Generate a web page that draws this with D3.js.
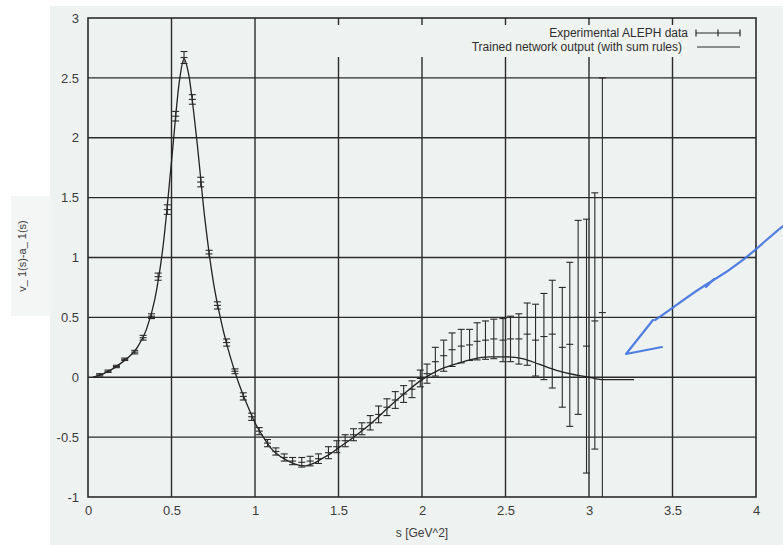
<!DOCTYPE html>
<html>
<head>
<meta charset="utf-8">
<script src="https://cdn.jsdelivr.net/npm/d3@7/dist/d3.min.js"></script>
<style>
  html, body { margin: 0; padding: 0; background: #ffffff; }
  svg { display: block; }
  text { font-family: "Liberation Sans", Arial, sans-serif; }
</style>
</head>
<body>
<svg id="chart" width="783" height="545"></svg>
<script>
// ALEPH V-A spectral function: measured points with errors
const dataS = [0.07, 0.12, 0.17, 0.22, 0.28, 0.33, 0.38, 0.42, 0.475, 0.525, 0.575, 0.625, 0.675, 0.725, 0.775,
  0.83, 0.88, 0.93, 0.98, 1.025, 1.075, 1.125, 1.175, 1.225, 1.28, 1.33, 1.38, 1.44, 1.49, 1.54, 1.59, 1.64,
  1.69, 1.74, 1.79, 1.84, 1.89, 1.94, 1.99, 2.03, 2.08, 2.13, 2.18, 2.235, 2.285, 2.33, 2.38, 2.43, 2.485,
  2.53, 2.58, 2.63, 2.68, 2.73, 2.78, 2.84, 2.885, 2.935, 2.985, 3.035, 3.08];
const dataV = [0.02, 0.05, 0.09, 0.15, 0.21, 0.33, 0.51, 0.84, 1.40, 2.18, 2.67, 2.32, 1.63, 1.03, 0.60,
  0.29, 0.05, -0.16, -0.33, -0.45, -0.55, -0.62, -0.67, -0.70, -0.71, -0.70, -0.68, -0.63, -0.58, -0.53, -0.48, -0.43,
  -0.38, -0.31, -0.25, -0.19, -0.14, -0.10, -0.01, 0.03, 0.13, 0.18, 0.23, 0.26, 0.27, 0.30, 0.31, 0.32, 0.31,
  0.32, 0.32, 0.36, 0.31, 0.34, 0.36, 0.25, 0.275, 0.50, 0.26, 0.47, 0.54];
const dataErr = [0.01, 0.01, 0.01, 0.01, 0.015, 0.02, 0.02, 0.03, 0.04, 0.04, 0.05, 0.04, 0.04, 0.03, 0.03,
  0.03, 0.02, 0.03, 0.03, 0.03, 0.03, 0.03, 0.03, 0.03, 0.04, 0.04, 0.04, 0.05, 0.05, 0.05, 0.05, 0.05,
  0.06, 0.07, 0.07, 0.07, 0.07, 0.07, 0.07, 0.08, 0.12, 0.13, 0.14, 0.14, 0.13, 0.155, 0.16, 0.165, 0.18,
  0.19, 0.21, 0.26, 0.30, 0.36, 0.45, 0.50, 0.685, 0.81, 1.06, 1.07, 1.96];

// Trained network output (with sum rules)
const netS = [0.03, 0.1, 0.2, 0.3, 0.35, 0.4, 0.45, 0.5, 0.55, 0.575, 0.6, 0.65, 0.7, 0.75, 0.8, 0.85, 0.9,
  0.95, 1.0, 1.05, 1.1, 1.15, 1.2, 1.25, 1.3, 1.35, 1.4, 1.45, 1.5, 1.6, 1.7, 1.8, 1.9, 2.0, 2.1, 2.2, 2.3,
  2.4, 2.5, 2.6, 2.7, 2.8, 2.9, 3.0, 3.05, 3.1, 3.27];
const netV = [0.0, 0.035, 0.12, 0.26, 0.40, 0.65, 1.10, 1.80, 2.50, 2.66, 2.55, 2.00, 1.32, 0.80, 0.45, 0.18, -0.04,
  -0.22, -0.38, -0.50, -0.60, -0.66, -0.70, -0.73, -0.74, -0.72, -0.68, -0.64, -0.59, -0.49, -0.38, -0.25, -0.13, -0.02, 0.06, 0.11, 0.15,
  0.17, 0.17, 0.155, 0.11, 0.06, 0.025, 0.0, -0.015, -0.02, -0.02];

const xTicks = [0, 0.5, 1, 1.5, 2, 2.5, 3, 3.5, 4];
const yTicks = [-1, -0.5, 0, 0.5, 1, 1.5, 2, 2.5, 3];
const legendLabels = ["Experimental ALEPH data", "Trained network output (with sum rules)"];
const xTitle = "s [GeV^2]";
const yTitle = "v_ 1(s)-a_ 1(s)";

const plotL = 88, plotR = 756, plotT = 18, plotB = 497;
const ink = "#2b2b2b";

const svg = d3.select("#chart");
const x = d3.scaleLinear().domain([0, 4]).range([plotL, plotR]);
const y = d3.scaleLinear().domain([-1, 3]).range([plotB, plotT]);

// paper tone
svg.append("rect").attr("x", 0).attr("y", 0).attr("width", 783).attr("height", 545).attr("fill", "#ffffff");
svg.append("rect").attr("x", 50).attr("y", 6).attr("width", 733).attr("height", 539).attr("fill", "#eef2f0");
svg.append("rect").attr("x", 11).attr("y", 196).attr("width", 40).attr("height", 120).attr("fill", "#f3f6f4");

// grid
const grid = svg.append("g").attr("stroke", ink).attr("stroke-width", 1.4);
grid.selectAll("line.h").data(yTicks.slice(1, -1)).join("line")
  .attr("x1", plotL).attr("x2", plotR).attr("y1", d => y(d)).attr("y2", d => y(d));
grid.selectAll("line.v").data(xTicks.slice(1, -1)).join("line")
  .attr("y1", plotT).attr("y2", plotB).attr("x1", d => x(d)).attr("x2", d => x(d));

// legend area cleared of grid, short ticks kept on the top edge
const legY1 = 57;
svg.append("rect").attr("x", x(1.45)).attr("y", plotT + 1).attr("width", plotR - x(1.45) - 1)
  .attr("height", legY1 - plotT - 1).attr("fill", "#eef2f0");
svg.append("g").attr("stroke", ink).attr("stroke-width", 1.4)
  .selectAll("line").data(xTicks.filter(d => d > 1.45 && d < 4)).join("line")
  .attr("x1", d => x(d)).attr("x2", d => x(d)).attr("y1", plotT).attr("y2", plotT + 7);

// frame
svg.append("rect").attr("x", plotL).attr("y", plotT).attr("width", plotR - plotL).attr("height", plotB - plotT)
  .attr("fill", "none").attr("stroke", ink).attr("stroke-width", 1.6);

// tick labels via d3 axes
const xAxis = svg.append("g").attr("transform", `translate(0,${plotB + 9})`)
  .call(d3.axisBottom(x).tickValues(xTicks).tickSize(0).tickPadding(0).tickFormat(d => String(d)));
const yAxis = svg.append("g").attr("transform", `translate(${plotL - 9},0)`)
  .call(d3.axisLeft(y).tickValues(yTicks).tickSize(0).tickPadding(0).tickFormat(d => String(d)));
[xAxis, yAxis].forEach(a => {
  a.select(".domain").remove();
  a.selectAll("text").attr("font-size", 13).attr("fill", "#3c3c3c")
    .attr("font-family", "'Liberation Sans', Arial, sans-serif");
});
xAxis.selectAll("text").attr("dy", "0.71em");

svg.append("text").attr("x", (plotL + plotR) / 2).attr("y", 537).attr("text-anchor", "middle")
  .attr("font-size", 12).attr("fill", "#3c3c3c").text(xTitle);
svg.append("text").attr("transform", "translate(26,256) rotate(-90)").attr("text-anchor", "middle")
  .attr("font-size", 11).attr("fill", "#3c3c3c").text(yTitle);

// plotting area clip
svg.append("clipPath").attr("id", "plotClip").append("rect")
  .attr("x", plotL).attr("y", plotT).attr("width", plotR - plotL).attr("height", plotB - plotT);
const plot = svg.append("g").attr("clip-path", "url(#plotClip)");

// network curve
const points = dataS.map((s, i) => ({ s, v: dataV[i], e: dataErr[i] }));
const net = netS.map((s, i) => ({ s, v: netV[i] }));
plot.append("path").datum(net)
  .attr("fill", "none").attr("stroke", "#222").attr("stroke-width", 1.3)
  .attr("d", d3.line().x(d => x(d.s)).y(d => y(d.v)).curve(d3.curveMonotoneX));

// error bars
const hw = 3.5;
const eb = plot.append("g").attr("stroke", "#2a2a2a").attr("stroke-width", 1.1).attr("fill", "none");
const bar = eb.selectAll("g").data(points).join("g");
bar.append("line").attr("x1", d => x(d.s)).attr("x2", d => x(d.s))
  .attr("y1", d => y(d.v - d.e)).attr("y2", d => y(d.v + d.e));
bar.append("line").attr("x1", d => x(d.s) - hw).attr("x2", d => x(d.s) + hw)
  .attr("y1", d => y(d.v + d.e)).attr("y2", d => y(d.v + d.e));
bar.append("line").attr("x1", d => x(d.s) - hw).attr("x2", d => x(d.s) + hw)
  .attr("y1", d => y(d.v - d.e)).attr("y2", d => y(d.v - d.e));
bar.append("line").attr("x1", d => x(d.s) - hw).attr("x2", d => x(d.s) + hw)
  .attr("y1", d => y(d.v)).attr("y2", d => y(d.v));

// legend
const legRight = 688;
const leg = svg.append("g").attr("font-size", 12).attr("fill", "#2e2e2e");
leg.append("text").attr("x", legRight).attr("y", 37).attr("text-anchor", "end").text(legendLabels[0]);
leg.append("text").attr("x", legRight - 6).attr("y", 51).attr("text-anchor", "end").text(legendLabels[1]);
const ls = leg.append("g").attr("stroke", "#2a2a2a").attr("stroke-width", 1.2);
ls.append("line").attr("x1", 696).attr("x2", 740).attr("y1", 33).attr("y2", 33);
[696, 718, 740].forEach(px => ls.append("line").attr("x1", px).attr("x2", px).attr("y1", 29.5).attr("y2", 36.5));
ls.append("line").attr("x1", 697).attr("x2", 740).attr("y1", 47).attr("y2", 47);

// hand-drawn arrow annotation
const arrow = svg.append("g").attr("fill", "none").attr("stroke", "#3f72e0").attr("stroke-width", 2.2)
  .attr("stroke-linecap", "round").attr("stroke-linejoin", "round").attr("opacity", 0.9);
arrow.append("path").attr("d", "M783,226 C765,240 745,262 712,281 C690,294 668,312 655,320");
arrow.append("path").attr("d", "M653,320 L626,354 L662,347");
arrow.append("path").attr("d", "M706,287 L714,279");
</script>
</body>
</html>
